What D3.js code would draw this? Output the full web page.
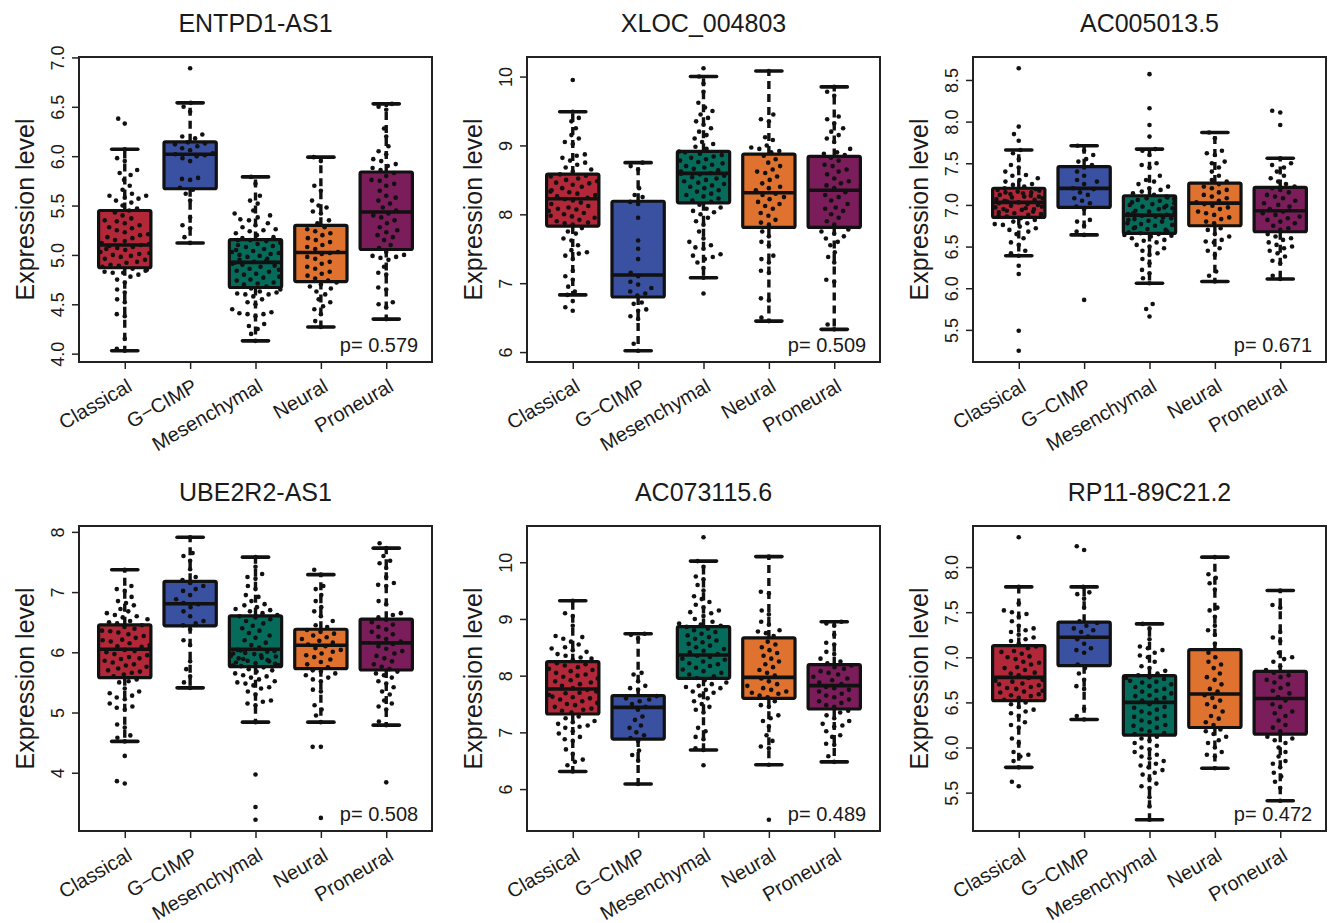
<!DOCTYPE html>
<html><head><meta charset="utf-8">
<script src="https://cdn.jsdelivr.net/npm/d3@7"></script>
<style>
body{margin:0;background:#fff}
svg{display:block}
text{font-family:"Liberation Sans",Arial,Helvetica,sans-serif;fill:#1a1a1a}
</style>
</head><body>
<svg id="chart" width="1328" height="923"></svg>
<script>
// ---------- data ----------
const categories = ["Classical", "G\u2212CIMP", "Mesenchymal", "Neural", "Proneural"];
const groupColors = ["#B32839", "#3A50A0", "#056B5B", "#E0722F", "#7A1D5A"];
const geneTitles = ["ENTPD1-AS1", "XLOC_004803", "AC005013.5", "UBE2R2-AS1", "AC073115.6", "RP11-89C21.2"];
const pValues = ["0.579", "0.509", "0.671", "0.508", "0.489", "0.472"];

const yTickValues = [
  [4.0, 4.5, 5.0, 5.5, 6.0, 6.5, 7.0],
  [6, 7, 8, 9, 10],
  [5.5, 6.0, 6.5, 7.0, 7.5, 8.0, 8.5],
  [4, 5, 6, 7, 8],
  [6, 7, 8, 9, 10],
  [5.5, 6.0, 6.5, 7.0, 7.5, 8.0]
];
const yTickLabels = [
  ["4.0", "4.5", "5.0", "5.5", "6.0", "6.5", "7.0"],
  ["6", "7", "8", "9", "10"],
  ["5.5", "6.0", "6.5", "7.0", "7.5", "8.0", "8.5"],
  ["4", "5", "6", "7", "8"],
  ["6", "7", "8", "9", "10"],
  ["5.5", "6.0", "6.5", "7.0", "7.5", "8.0"]
];

// box statistics per panel: [Classical, G-CIMP, Mesenchymal, Neural, Proneural]
const whiskerLow = [
  [4.03, 5.12, 4.13, 4.27, 4.35],
  [6.83, 6.02, 7.08, 6.45, 6.33],
  [6.39, 6.64, 6.06, 6.08, 6.11],
  [4.52, 5.41, 4.84, 4.84, 4.79],
  [6.31, 6.09, 6.69, 6.43, 6.48],
  [5.78, 6.31, 5.20, 5.77, 5.41]
];
const quartile1 = [
  [4.87, 5.67, 4.67, 4.73, 5.055],
  [7.83, 6.80, 8.167, 7.81, 7.81],
  [6.85, 6.97, 6.658, 6.75, 6.678],
  [5.578, 6.44, 5.761, 5.728, 5.706],
  [7.324, 6.882, 7.953, 7.60, 7.412],
  [6.519, 6.907, 6.137, 6.222, 6.148]
];
const medians = [
  [5.10, 6.02, 4.925, 5.025, 5.435],
  [8.225, 7.12, 8.594, 8.313, 8.35],
  [7.03, 7.198, 6.878, 7.022, 6.93],
  [6.05, 6.806, 6.05, 6.117, 6.156],
  [7.765, 7.441, 8.365, 7.97, 7.824],
  [6.778, 7.222, 6.50, 6.593, 6.544]
];
const quartile3 = [
  [5.45, 6.145, 5.155, 5.30, 5.84],
  [8.585, 8.19, 8.914, 8.875, 8.84],
  [7.20, 7.459, 7.11, 7.262, 7.21],
  [6.456, 7.178, 6.606, 6.383, 6.55],
  [8.247, 7.647, 8.865, 8.665, 8.194],
  [7.13, 7.389, 6.796, 7.085, 6.844]
];
const whiskerHigh = [
  [6.07, 6.54, 5.79, 5.99, 6.53],
  [9.49, 8.75, 10.00, 10.08, 9.85],
  [7.66, 7.71, 7.67, 7.87, 7.56],
  [7.37, 7.91, 7.58, 7.29, 7.73],
  [9.32, 8.74, 10.02, 10.10, 8.95],
  [7.78, 7.78, 7.37, 8.11, 7.74]
];

// individual sample values per panel (one string per subtype)
const pointsENTPD1 = [
  "4.03 4.05 4.15 4.38 4.40 4.52 4.55 4.62 4.65 4.72 4.75 4.78 4.80 4.82 4.82 4.83 4.84 4.85 4.86 4.88 4.89 4.90 4.92 4.93 4.95 4.96 4.98 4.99 5.00 5.01 5.02 5.03 5.05 5.06 5.07 5.08 5.09 5.10 5.11 5.12 5.14 5.15 5.17 5.18 5.20 5.21 5.23 5.25 5.27 5.28 5.30 5.32 5.34 5.35 5.37 5.40 5.43 5.45 5.47 5.50 5.53 5.55 5.57 5.58 5.60 5.60 5.62 5.66 5.70 5.76 5.81 5.83 5.86 5.95 5.98 6.07 6.33 6.38",
  "5.12 5.18 5.27 5.30 5.38 5.55 5.62 5.66 5.68 5.76 5.77 5.78 5.95 5.98 6.00 6.01 6.02 6.03 6.06 6.08 6.10 6.12 6.13 6.14 6.18 6.20 6.22 6.45 6.50 6.54 6.89",
  "4.13 4.20 4.25 4.28 4.30 4.38 4.40 4.40 4.41 4.42 4.45 4.50 4.52 4.55 4.58 4.60 4.60 4.61 4.62 4.63 4.65 4.66 4.68 4.70 4.71 4.72 4.74 4.75 4.77 4.78 4.80 4.81 4.83 4.84 4.85 4.86 4.88 4.89 4.90 4.91 4.92 4.92 4.93 4.94 4.95 4.96 4.98 4.99 5.00 5.01 5.02 5.03 5.04 5.05 5.06 5.08 5.09 5.10 5.11 5.12 5.13 5.14 5.15 5.15 5.17 5.18 5.20 5.22 5.24 5.25 5.26 5.28 5.30 5.32 5.35 5.36 5.38 5.40 5.42 5.45 5.52 5.55 5.60 5.72 5.79",
  "4.27 4.33 4.40 4.45 4.48 4.52 4.55 4.60 4.63 4.66 4.68 4.70 4.72 4.74 4.76 4.79 4.81 4.83 4.86 4.88 4.91 4.93 4.96 4.98 5.01 5.02 5.03 5.06 5.08 5.10 5.13 5.15 5.17 5.20 5.22 5.24 5.26 5.28 5.32 5.35 5.42 5.44 5.48 5.50 5.55 5.65 5.70 5.95 5.99",
  "4.35 4.47 4.50 4.52 4.65 4.67 4.80 4.82 4.88 4.95 4.97 4.98 4.99 5.00 5.03 5.07 5.10 5.15 5.18 5.20 5.23 5.25 5.28 5.32 5.35 5.38 5.40 5.42 5.45 5.48 5.52 5.55 5.58 5.60 5.65 5.70 5.72 5.75 5.76 5.80 5.83 5.86 5.88 5.90 5.92 5.95 5.97 6.02 6.05 6.10 6.20 6.28 6.47 6.50 6.53"
];
const pointsXLOC = [
  "6.60 6.65 6.74 6.83 6.88 6.95 7.05 7.10 7.18 7.35 7.40 7.43 7.45 7.48 7.55 7.62 7.65 7.72 7.75 7.80 7.85 7.87 7.88 7.90 7.92 7.95 7.97 7.98 8.00 8.02 8.05 8.07 8.08 8.10 8.12 8.15 8.17 8.20 8.22 8.24 8.26 8.28 8.30 8.32 8.33 8.35 8.38 8.40 8.43 8.45 8.46 8.48 8.50 8.52 8.55 8.56 8.58 8.62 8.65 8.68 8.72 8.75 8.78 8.82 8.85 8.87 9.02 9.05 9.10 9.15 9.25 9.35 9.40 9.49 9.95",
  "6.02 6.12 6.48 6.52 6.60 6.62 6.70 6.72 6.82 6.85 6.88 6.93 6.98 7.02 7.10 7.15 7.35 7.50 7.62 7.95 8.15 8.18 8.25 8.28 8.38 8.65 8.70 8.75",
  "6.85 7.08 7.22 7.30 7.35 7.38 7.40 7.42 7.50 7.52 7.55 7.60 7.65 7.75 7.85 7.90 7.95 8.00 8.03 8.05 8.08 8.10 8.14 8.18 8.20 8.23 8.26 8.28 8.30 8.33 8.35 8.38 8.40 8.42 8.44 8.46 8.48 8.50 8.52 8.54 8.56 8.58 8.59 8.60 8.62 8.64 8.66 8.68 8.70 8.72 8.74 8.76 8.78 8.80 8.82 8.84 8.86 8.88 8.90 8.91 8.95 8.98 9.02 9.05 9.10 9.15 9.20 9.25 9.30 9.35 9.40 9.45 9.50 9.55 9.62 9.78 9.90 10.00 10.12",
  "6.45 6.50 6.75 6.78 7.15 7.18 7.30 7.35 7.40 7.55 7.60 7.68 7.75 7.85 7.88 7.92 7.98 8.02 8.08 8.12 8.15 8.18 8.22 8.25 8.28 8.30 8.35 8.38 8.40 8.45 8.50 8.55 8.60 8.62 8.65 8.70 8.75 8.80 8.85 8.90 8.92 8.95 8.97 9.00 9.08 9.12 9.35 9.38 9.45 10.08",
  "6.33 6.40 7.02 7.05 7.30 7.38 7.45 7.55 7.60 7.65 7.68 7.72 7.75 7.78 7.85 7.90 7.95 8.00 8.05 8.08 8.10 8.15 8.20 8.25 8.28 8.32 8.38 8.42 8.45 8.48 8.52 8.58 8.62 8.65 8.70 8.72 8.78 8.82 8.86 8.88 8.90 8.95 9.05 9.10 9.15 9.20 9.25 9.32 9.38 9.42 9.72 9.78 9.85"
];
const pointsAC005013 = [
  "5.25 5.49 6.17 6.27 6.39 6.42 6.45 6.52 6.55 6.60 6.65 6.68 6.70 6.72 6.74 6.76 6.77 6.78 6.80 6.82 6.84 6.86 6.87 6.88 6.88 6.89 6.90 6.91 6.92 6.93 6.94 6.95 6.95 6.96 6.97 6.98 6.99 7.00 7.01 7.02 7.03 7.04 7.05 7.06 7.07 7.08 7.09 7.10 7.10 7.11 7.12 7.13 7.14 7.15 7.15 7.16 7.17 7.18 7.19 7.20 7.22 7.24 7.25 7.28 7.30 7.32 7.35 7.36 7.40 7.45 7.48 7.55 7.62 7.66 7.77 7.85 7.94 8.64",
  "5.86 6.64 6.68 6.75 6.80 6.82 6.95 6.98 7.02 7.05 7.08 7.12 7.15 7.19 7.20 7.25 7.28 7.30 7.35 7.40 7.45 7.48 7.52 7.55 7.60 7.65 7.71",
  "5.66 5.75 5.81 6.06 6.12 6.18 6.22 6.30 6.35 6.40 6.42 6.45 6.48 6.50 6.52 6.55 6.57 6.58 6.60 6.62 6.63 6.64 6.65 6.66 6.67 6.68 6.70 6.71 6.72 6.73 6.75 6.76 6.77 6.78 6.80 6.81 6.82 6.83 6.84 6.85 6.86 6.87 6.88 6.89 6.90 6.91 6.92 6.93 6.95 6.96 6.97 6.98 6.99 7.00 7.01 7.02 7.03 7.05 7.06 7.07 7.08 7.09 7.10 7.12 7.14 7.16 7.18 7.20 7.22 7.25 7.28 7.30 7.35 7.45 7.48 7.50 7.60 7.65 7.67 7.82 7.96 8.16 8.57",
  "6.08 6.15 6.20 6.40 6.45 6.48 6.55 6.56 6.58 6.62 6.65 6.70 6.72 6.78 6.80 6.83 6.85 6.88 6.90 6.92 6.95 6.97 6.99 7.01 7.03 7.05 7.08 7.10 7.12 7.15 7.18 7.20 7.22 7.25 7.28 7.30 7.35 7.40 7.45 7.50 7.52 7.60 7.62 7.65 7.80 7.87",
  "6.11 6.15 6.30 6.33 6.38 6.42 6.45 6.48 6.50 6.52 6.55 6.58 6.60 6.62 6.65 6.70 6.72 6.75 6.78 6.80 6.82 6.84 6.86 6.88 6.90 6.92 6.95 6.98 7.00 7.02 7.05 7.08 7.10 7.12 7.15 7.18 7.20 7.22 7.25 7.28 7.32 7.35 7.40 7.45 7.48 7.50 7.56 7.96 8.11 8.13"
];
const pointsUBE2R2 = [
  "3.82 3.86 4.28 4.52 4.58 4.62 4.75 4.80 5.05 5.08 5.10 5.15 5.22 5.25 5.28 5.32 5.35 5.40 5.50 5.52 5.55 5.60 5.63 5.66 5.68 5.70 5.73 5.76 5.78 5.80 5.83 5.86 5.89 5.90 5.92 5.95 5.97 6.00 6.02 6.04 6.06 6.09 6.10 6.12 6.15 6.18 6.20 6.21 6.24 6.27 6.30 6.33 6.35 6.36 6.39 6.42 6.45 6.48 6.50 6.52 6.55 6.58 6.60 6.62 6.65 6.68 6.72 6.78 6.82 6.85 6.92 7.02 7.05 7.10 7.37",
  "5.41 5.50 5.60 5.72 5.85 6.12 6.20 6.38 6.45 6.48 6.52 6.60 6.68 6.75 6.80 6.82 6.88 6.95 7.02 7.05 7.10 7.15 7.20 7.25 7.38 7.52 7.60 7.65 7.91",
  "3.22 3.43 3.97 4.84 5.12 5.15 5.18 5.20 5.30 5.35 5.40 5.42 5.45 5.48 5.50 5.52 5.55 5.58 5.60 5.62 5.65 5.68 5.70 5.72 5.75 5.77 5.78 5.79 5.81 5.82 5.83 5.85 5.86 5.87 5.89 5.90 5.91 5.93 5.94 5.95 5.97 5.98 5.99 6.01 6.02 6.03 6.04 6.08 6.12 6.16 6.20 6.24 6.28 6.32 6.36 6.40 6.44 6.48 6.52 6.55 6.58 6.60 6.62 6.65 6.68 6.70 6.72 6.75 6.78 6.80 6.85 6.92 6.95 7.05 7.10 7.22 7.25 7.30 7.42 7.58",
  "3.25 4.43 4.43 4.84 4.95 5.05 5.12 5.35 5.38 5.52 5.55 5.58 5.62 5.65 5.68 5.70 5.75 5.80 5.84 5.88 5.92 5.95 5.98 6.01 6.04 6.07 6.10 6.13 6.16 6.19 6.22 6.25 6.28 6.31 6.34 6.37 6.42 6.45 6.52 6.60 6.68 6.75 6.85 6.95 7.05 7.10 7.29 7.37",
  "3.84 4.79 4.85 5.05 5.10 5.15 5.20 5.30 5.35 5.42 5.48 5.52 5.58 5.62 5.65 5.68 5.72 5.76 5.80 5.85 5.90 5.94 5.98 6.02 6.06 6.10 6.14 6.18 6.22 6.26 6.30 6.34 6.38 6.42 6.46 6.50 6.54 6.58 6.62 6.65 6.80 6.85 7.10 7.12 7.15 7.25 7.40 7.48 7.52 7.60 7.73 7.81"
];
const pointsAC073115 = [
  "6.31 6.42 6.48 6.52 6.62 6.70 6.85 6.88 6.92 6.98 7.02 7.08 7.10 7.12 7.15 7.18 7.20 7.25 7.28 7.35 7.38 7.40 7.42 7.45 7.48 7.50 7.52 7.55 7.58 7.60 7.62 7.63 7.66 7.69 7.70 7.72 7.75 7.78 7.82 7.85 7.88 7.90 7.92 7.95 7.98 8.00 8.02 8.05 8.08 8.10 8.12 8.15 8.18 8.20 8.22 8.28 8.30 8.32 8.35 8.38 8.42 8.45 8.48 8.50 8.55 8.60 8.65 8.68 8.70 8.88 9.05 9.10 9.32",
  "6.09 6.50 6.60 6.68 6.85 6.90 6.95 7.00 7.08 7.12 7.22 7.28 7.40 7.45 7.50 7.55 7.58 7.60 7.64 7.75 7.78 7.82 7.90 8.02 8.05 8.65 8.72 8.74",
  "6.42 6.69 6.72 6.88 6.92 7.02 7.08 7.35 7.40 7.45 7.50 7.55 7.60 7.65 7.70 7.72 7.75 7.78 7.80 7.82 7.85 7.88 7.92 7.96 7.99 8.02 8.05 8.08 8.11 8.14 8.17 8.20 8.22 8.25 8.28 8.30 8.33 8.35 8.38 8.41 8.44 8.47 8.50 8.53 8.56 8.59 8.62 8.65 8.68 8.71 8.74 8.77 8.80 8.83 8.86 8.88 8.90 8.92 8.95 9.00 9.05 9.10 9.12 9.15 9.20 9.25 9.30 9.35 9.40 9.50 9.60 9.70 9.75 9.92 10.02 10.44",
  "5.46 6.43 6.72 6.75 6.85 6.95 7.10 7.20 7.25 7.30 7.45 7.48 7.55 7.62 7.65 7.68 7.70 7.72 7.75 7.78 7.82 7.85 7.90 7.95 8.00 8.05 8.10 8.15 8.20 8.25 8.30 8.35 8.40 8.45 8.50 8.55 8.60 8.70 8.75 8.78 8.80 8.90 8.95 9.08 9.15 9.45 9.48 10.10",
  "6.48 6.58 6.78 6.80 6.92 6.95 7.02 7.10 7.12 7.15 7.20 7.25 7.30 7.35 7.38 7.45 7.48 7.52 7.55 7.58 7.62 7.65 7.68 7.72 7.75 7.78 7.80 7.85 7.88 7.92 7.95 7.98 8.02 8.05 8.08 8.12 8.15 8.18 8.22 8.25 8.30 8.38 8.42 8.55 8.58 8.72 8.88 8.92 8.95"
];
const pointsRP11 = [
  "5.57 5.62 5.78 5.85 5.90 5.92 5.95 6.05 6.10 6.22 6.25 6.28 6.35 6.38 6.40 6.42 6.45 6.48 6.50 6.53 6.55 6.57 6.58 6.59 6.61 6.62 6.63 6.65 6.66 6.67 6.69 6.70 6.71 6.73 6.74 6.75 6.77 6.80 6.82 6.83 6.86 6.88 6.89 6.92 6.94 6.95 6.98 7.00 7.01 7.04 7.06 7.07 7.10 7.12 7.15 7.18 7.20 7.22 7.25 7.28 7.30 7.32 7.35 7.40 7.45 7.48 7.50 7.52 7.60 7.78 8.33",
  "6.31 6.35 6.43 6.65 6.68 6.75 6.82 6.88 6.92 7.05 7.08 7.10 7.15 7.20 7.23 7.28 7.30 7.32 7.35 7.38 7.40 7.55 7.65 7.70 7.72 7.78 8.19 8.23",
  "5.20 5.35 5.45 5.55 5.57 5.60 5.65 5.70 5.72 5.75 5.78 5.80 5.82 5.85 5.88 5.90 5.92 5.95 5.98 6.00 6.02 6.05 6.08 6.10 6.12 6.15 6.16 6.18 6.20 6.22 6.24 6.25 6.28 6.30 6.32 6.34 6.35 6.38 6.40 6.42 6.44 6.45 6.48 6.52 6.53 6.55 6.57 6.58 6.60 6.62 6.63 6.65 6.67 6.68 6.70 6.72 6.73 6.74 6.76 6.77 6.78 6.80 6.82 6.85 6.88 6.90 6.95 7.00 7.02 7.05 7.08 7.10 7.12 7.20 7.32 7.37",
  "5.77 5.90 5.92 5.95 6.00 6.05 6.08 6.12 6.15 6.18 6.20 6.25 6.28 6.32 6.35 6.40 6.45 6.48 6.52 6.55 6.58 6.62 6.65 6.70 6.75 6.78 6.82 6.88 6.92 6.95 7.00 7.05 7.15 7.25 7.30 7.35 7.45 7.52 7.55 7.75 7.82 7.88 7.92 8.11",
  "5.41 5.55 5.62 5.68 5.72 5.78 5.82 5.85 5.90 5.95 6.00 6.05 6.08 6.10 6.12 6.18 6.22 6.25 6.30 6.35 6.38 6.40 6.45 6.48 6.52 6.56 6.60 6.63 6.66 6.70 6.72 6.75 6.78 6.80 6.83 6.86 6.90 6.95 6.98 7.00 7.05 7.18 7.22 7.28 7.55 7.58 7.74"
];
const panelPoints = [pointsENTPD1, pointsXLOC, pointsAC005013, pointsUBE2R2, pointsAC073115, pointsRP11];

// ---------- layout ----------
const colLeft = [79, 527, 973], rowTop = [57, 526];
const plotW = 353, plotH = 305;
const svg = d3.select("#chart");

// swarm layout (pixel space): each point takes the free position closest to
// the centre line; positions beyond the box width are wrapped back inside.
function swarmOffsets(vals, y, D, halfW) {
  const items = vals.map((v, k) => ({ k, py: y(v), x: 0 }));
  const order = items.slice().sort((a, b) => b.py - a.py);
  const placed = [];
  for (const p of order) {
    const near = placed.filter(q => Math.abs(q.py - p.py) < D);
    const cands = [0];
    near.forEach(q => {
      const h = Math.sqrt(D * D - (q.py - p.py) ** 2);
      cands.push(q.x + h, q.x - h);
    });
    cands.sort((a, b) => Math.abs(a) - Math.abs(b) || a - b);
    let chosen = 0;
    for (const c of cands) {
      if (near.every(q => (c - q.x) ** 2 + (q.py - p.py) ** 2 >= D * D - 0.01)) { chosen = c; break; }
    }
    p.x = chosen;
    placed.push(p);
  }
  const w = 2 * halfW;
  return items.map(p => {
    let o = p.x;
    if (Math.abs(o) > halfW) o = (((o + halfW) % w) + w) % w - halfW;
    return o;
  });
}

geneTitles.forEach((title, i) => {
  const left = colLeft[i % 3], top = rowTop[Math.floor(i / 3)];
  const g = svg.append("g").attr("transform", `translate(${left},${top})`);
  const groups = panelPoints[i].map(s => s.trim().split(/\s+/).map(Number));
  const all = groups.flat().concat(whiskerLow[i], whiskerHigh[i]);
  const [mn, mx] = d3.extent(all);
  const pad = 0.04 * (mx - mn);
  const y = d3.scaleLinear().domain([mn - pad, mx + pad]).range([plotH, 0]);
  const n = categories.length;
  const x = d3.scaleLinear().domain([0.5 - 0.04 * n, n + 0.5 + 0.04 * n]).range([0, plotW]);
  const halfBox = x(1.4) - x(1.0);
  const halfStaple = halfBox / 2;

  categories.forEach((c, j) => {
    const cx = x(j + 1);
    [[quartile1[i][j], whiskerLow[i][j]], [quartile3[i][j], whiskerHigh[i][j]]].forEach(([a, b]) => {
      g.append("line").attr("x1", cx).attr("x2", cx).attr("y1", y(a)).attr("y2", y(b))
        .attr("stroke", "#111").attr("stroke-width", 3.4).attr("stroke-dasharray", "8,5");
    });
    [whiskerLow[i][j], whiskerHigh[i][j]].forEach(v => {
      g.append("line").attr("x1", cx - halfStaple).attr("x2", cx + halfStaple)
        .attr("y1", y(v)).attr("y2", y(v)).attr("stroke", "#111").attr("stroke-width", 3.6)
        .attr("stroke-linecap", "round");
    });
    g.append("rect").attr("x", cx - halfBox).attr("width", 2 * halfBox)
      .attr("y", y(quartile3[i][j])).attr("height", y(quartile1[i][j]) - y(quartile3[i][j]))
      .attr("fill", groupColors[j]).attr("stroke", "#111").attr("stroke-width", 3.2)
      .attr("rx", 1.5);
    g.append("line").attr("x1", cx - halfBox).attr("x2", cx + halfBox)
      .attr("y1", y(medians[i][j])).attr("y2", y(medians[i][j]))
      .attr("stroke", "#111").attr("stroke-width", 3.6);
    const offs = swarmOffsets(groups[j], y, 8.2, halfBox - 1);
    g.append("g").selectAll("circle").data(groups[j]).join("circle")
      .attr("cx", (d, k) => cx + offs[k]).attr("cy", d => y(d)).attr("r", 2.3).attr("fill", "#111");
  });

  g.append("rect").attr("width", plotW).attr("height", plotH)
    .attr("fill", "none").attr("stroke", "#222").attr("stroke-width", 2);

  const ya = g.append("g").call(d3.axisLeft(y).tickValues(yTickValues[i])
    .tickFormat((d, k) => yTickLabels[i][k]).tickSize(7).tickSizeOuter(0));
  ya.select(".domain").remove();
  ya.attr("font-family", null).attr("font-size", null);
  ya.selectAll(".tick line").attr("stroke", "#222").attr("stroke-width", 1.5);
  ya.selectAll(".tick text").attr("x", 0).attr("dy", 0).attr("y", 0)
    .attr("text-anchor", "middle").attr("font-size", 18).attr("fill", "#1a1a1a")
    .attr("transform", "translate(-15,0) rotate(-90)");

  const xa = g.append("g").attr("transform", `translate(0,${plotH})`)
    .call(d3.axisBottom(x).tickValues(d3.range(1, n + 1))
      .tickFormat(d => categories[d - 1]).tickSize(7).tickSizeOuter(0));
  xa.select(".domain").remove();
  xa.attr("font-family", null).attr("font-size", null);
  xa.selectAll(".tick line").attr("stroke", "#222").attr("stroke-width", 1.5);
  xa.selectAll(".tick text").attr("x", 0).attr("y", 0).attr("dy", 0)
    .attr("text-anchor", "end").attr("font-size", 20).attr("fill", "#1a1a1a")
    .attr("transform", "translate(8,28) rotate(-30)");

  g.append("text").attr("x", plotW / 2).attr("y", -25).attr("text-anchor", "middle")
    .attr("font-size", 25).text(title);
  g.append("text").attr("transform", `translate(-45,${plotH / 2}) rotate(-90)`)
    .attr("text-anchor", "middle").attr("font-size", 25).text("Expression level");
  g.append("text").attr("x", 300).attr("y", plotH - 10).attr("text-anchor", "middle")
    .attr("font-size", 20).text("p= " + pValues[i]);
});
</script>
</body></html>
